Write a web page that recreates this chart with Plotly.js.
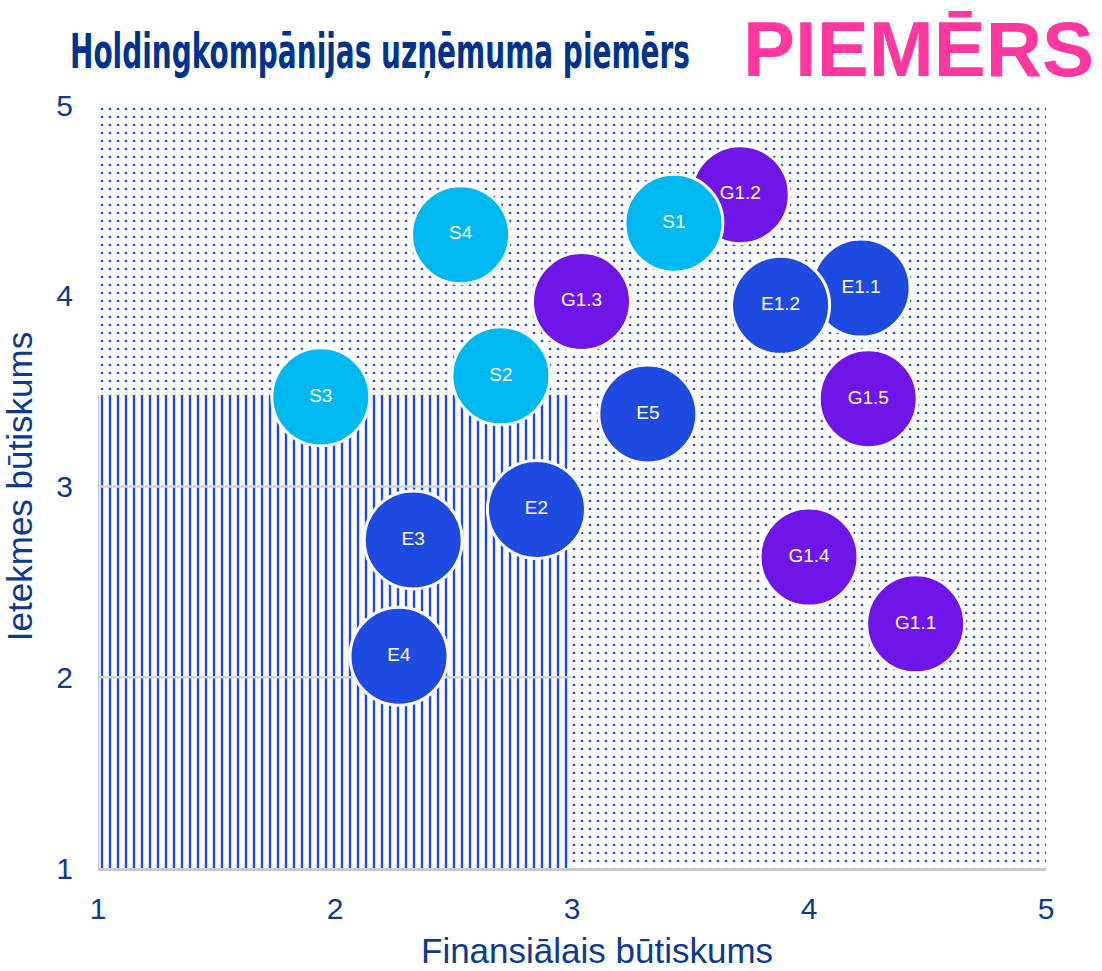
<!DOCTYPE html>
<html>
<head>
<meta charset="utf-8">
<script src="https://cdn.plot.ly/plotly-3.0.1.min.js"></script>
<style>html,body{margin:0;padding:0;background:#fff;}</style>
</head>
<body>
<div id="chart" style="width:1102px;height:971px;"></div>
<script>
// ---- data ----
const labels = ['S4','G1.3','S2','S3','E5','G1.5','E2','E3','G1.4','E4','G1.1','G1.2','S1','E1.1','E1.2'];
const groups = ['S','G','S','S','E','G','E','E','G','E','G','G','S','E','E'];
const finansialais = [2.53,3.04,2.70,1.94,3.32,4.25,2.85,2.33,4.00,2.27,4.45,3.71,3.43,4.22,3.88];
const ietekmes     = [4.32,3.97,3.58,3.47,3.38,3.46,2.88,2.72,2.63,2.11,2.28,4.53,4.38,4.04,3.95];
const tickValues = [1,2,3,4,5];
const axisRange = [1,5];
// zone thresholds (low financial / low impact area)
const zoneX = 3;
const zoneY = 3.48;
const gridYs = [2,3];

const groupColors = {S:'#00B8F0', E:'#1F4AE0', G:'#7015E8'};
const patternBlue = '#1F4AE6';
const navy = '#0E3A8C';

const traces = [];
// dotted area (everything outside the striped zone)
traces.push({
  type:'scatter', mode:'none', hoverinfo:'skip', showlegend:false,
  x:[axisRange[0], axisRange[0], axisRange[1], axisRange[1], zoneX, zoneX, axisRange[0]],
  y:[zoneY, axisRange[1], axisRange[1], axisRange[0], axisRange[0], zoneY, zoneY],
  fill:'toself', fillcolor:'white',
  fillpattern:{shape:'.', fgcolor:patternBlue, bgcolor:'white', size:8, solidity:0.09}
});
// striped zone
traces.push({
  type:'scatter', mode:'none', hoverinfo:'skip', showlegend:false,
  x:[axisRange[0], axisRange[0], zoneX, zoneX, axisRange[0]],
  y:[axisRange[0], zoneY, zoneY, axisRange[0], axisRange[0]],
  fill:'toself', fillcolor:'white',
  fillpattern:{shape:'|', fgcolor:patternBlue, bgcolor:'white', size:8, solidity:0.3}
});
// gridlines and left axis line inside the striped zone
const gx = [], gy = [];
gridYs.forEach(v => { gx.push(axisRange[0], zoneX, null); gy.push(v, v, null); });
traces.push({
  type:'scatter', mode:'lines', hoverinfo:'skip', showlegend:false,
  x:gx, y:gy, line:{color:'#D4D4D4', width:2.5}
});
traces.push({
  type:'scatter', mode:'lines', hoverinfo:'skip', showlegend:false,
  x:[axisRange[0], axisRange[0]], y:[axisRange[0], zoneY], line:{color:'#C4C4C4', width:2.5}
});
// bubbles, one per point to keep stacking order
labels.forEach((lab, i) => {
  traces.push({
    type:'scatter', mode:'markers+text', showlegend:false,
    x:[finansialais[i]], y:[ietekmes[i]], text:[lab], name:lab,
    textposition:'middle center',
    textfont:{family:'Liberation Sans, Arial, sans-serif', size:19, color:'white'},
    marker:{size:98, color:groupColors[groups[i]], line:{color:'white', width:3}},
    cliponaxis:false
  });
});

const layout = {
  width:1102, height:971,
  margin:{l:98, r:56, t:105, b:103},
  paper_bgcolor:'white', plot_bgcolor:'white',
  font:{family:'Liberation Sans, Arial, sans-serif', color:navy},
  title:{
    text:'Holdingkompānijas uzņēmuma piemērs',
    font:{family:'Liberation Sans Narrow, DejaVu Sans Condensed, Liberation Sans, sans-serif', size:48, color:'#00338D', weight:700},
    x:70/1102, xanchor:'left', xref:'container',
    y:1-51/971, yanchor:'middle', yref:'container'
  },
  xaxis:{
    range:axisRange, tickvals:tickValues, showgrid:false, zeroline:false,
    showline:true, linecolor:'#C8C8C8', linewidth:2.5,
    tickfont:{size:30, color:navy}, ticks:'', ticklabelstandoff:12
  },
  yaxis:{
    range:axisRange, tickvals:tickValues, showgrid:false, zeroline:false,
    showline:false,
    tickfont:{size:30, color:navy}, ticks:'', ticklabelstandoff:24,
    title:{text:'Ietekmes būtiskums', font:{size:35, color:navy}, standoff:13}
  },
  annotations:[{
    text:'PIEMĒRS', xref:'paper', yref:'paper', x:(918-98)/948, y:(868-49)/763,
    xanchor:'center', yanchor:'middle', showarrow:false,
    font:{family:'Liberation Sans, Arial, sans-serif', size:78, color:'#FF389F', weight:700}
  },{
    text:'Finansiālais būtiskums', xref:'paper', yref:'paper', x:(597-98)/948, y:-(950-868)/763,
    xanchor:'center', yanchor:'middle', showarrow:false,
    font:{family:'Liberation Sans, Arial, sans-serif', size:35, color:navy}
  }]
};

Plotly.newPlot('chart', traces, layout, {displayModeBar:false, staticPlot:true}).then(gd => {
  // condense the title glyphs to the reference's narrow headline width
  const t = gd.querySelector('.gtitle');
  if (t) {
    t.setAttribute('textLength', '620');
    t.setAttribute('lengthAdjust', 'spacingAndGlyphs');
  }
});
</script>
</body>
</html>
